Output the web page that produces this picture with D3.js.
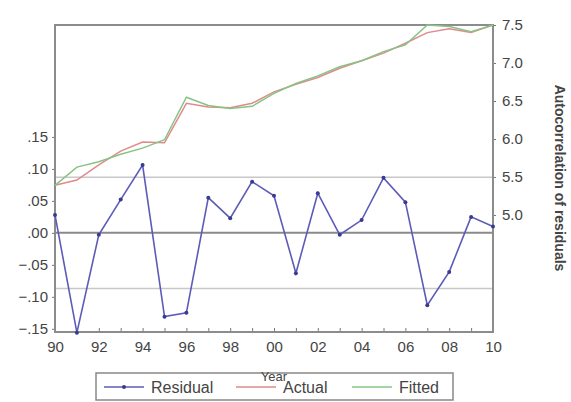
<!DOCTYPE html>
<html>
<head>
<meta charset="utf-8">
<script src="https://cdn.jsdelivr.net/npm/d3@7.9.0/dist/d3.min.js"></script>
<style>
  body { margin: 0; background: #fff; }
  svg text { font-family: "Liberation Sans", Arial, sans-serif; fill: #444; }
</style>
</head>
<body>
<svg id="chart" width="571" height="402"></svg>
<script>
// years on x axis
const years = d3.range(1990, 2011);

// residuals (left axis)
const residual = [0.028, -0.156, -0.003, 0.052, 0.106, -0.131, -0.125, 0.055, 0.023, 0.080,
  0.058, -0.063, 0.062, -0.003, 0.020, 0.086, 0.048, -0.113, -0.061, 0.025, 0.010];
// actual and fitted (right axis)
const actual = [5.39, 5.46, 5.66, 5.84, 5.96, 5.95, 6.47, 6.42, 6.41, 6.47,
  6.62, 6.72, 6.81, 6.93, 7.03, 7.13, 7.26, 7.40, 7.45, 7.40, 7.50];
const fitted = [5.39, 5.63, 5.70, 5.80, 5.88, 5.99, 6.55, 6.44, 6.40, 6.43,
  6.60, 6.73, 6.83, 6.95, 7.03, 7.15, 7.24, 7.50, 7.48, 7.41, 7.50];

const leftTicks = [-0.15, -0.10, -0.05, 0.00, 0.05, 0.10, 0.15];
const rightTicks = [5.0, 5.5, 6.0, 6.5, 7.0, 7.5];
const sdBand = 0.087;

const legendItems = [
  { name: 'Residual', color: '#5c5cb8', marker: true },
  { name: 'Actual', color: '#e08a8a', marker: false },
  { name: 'Fitted', color: '#86c486', marker: false }
];

const svg = d3.select('#chart');
const margin = { top: 25, right: 78, bottom: 70, left: 55 };
const W = 571, H = 402;

let x = d3.scaleLinear().domain([1990, 2010]).range([margin.left, W - margin.right]);
let yL = d3.scaleLinear().domain([-0.155, 0.325]).range([H - margin.bottom, margin.top]);
let yR = d3.scaleLinear().domain([3.46, 7.5]).range([H - margin.bottom, margin.top]);

// reference lines: +-1 sd and zero
[sdBand, -sdBand].forEach(v => {
  svg.append('line')
    .attr('x1', margin.left).attr('x2', W - margin.right)
    .attr('y1', yL(v)).attr('y2', yL(v))
    .attr('stroke', '#c8c8c8').attr('stroke-width', 1.5);
});
svg.append('line')
  .attr('x1', margin.left).attr('x2', W - margin.right)
  .attr('y1', yL(0)).attr('y2', yL(0))
  .attr('stroke', '#8a8a8a').attr('stroke-width', 2);

// axes
const fmtLeft = d => d3.format('.2f')(d).replace('0.', '.');
const leftAxis = svg.append('g')
  .attr('transform', `translate(${margin.left},0)`)
  .call(d3.axisLeft(yL).tickValues(leftTicks).tickFormat(fmtLeft).tickSize(3).tickPadding(4));

const rightAxis = svg.append('g')
  .attr('transform', `translate(${W - margin.right},0)`)
  .call(d3.axisRight(yR).tickValues(rightTicks).tickFormat(d3.format('.1f')).tickSize(3).tickPadding(6));

const xAxis = svg.append('g')
  .attr('transform', `translate(0,${H - margin.bottom})`)
  .call(d3.axisBottom(x).tickValues(years).tickSize(4).tickPadding(5)
    .tickFormat(d => d % 2 === 0 ? String(d).slice(2) : ''));

[leftAxis, rightAxis, xAxis].forEach(g => {
  g.select('.domain').remove();
  g.selectAll('line').attr('stroke', '#777');
  g.selectAll('text').attr('font-size', 15).attr('fill', '#444');
});
xAxis.selectAll('line').attr('y2', -4);

// plot frame
svg.append('rect')
  .attr('x', margin.left).attr('y', margin.top)
  .attr('width', W - margin.left - margin.right)
  .attr('height', H - margin.top - margin.bottom)
  .attr('fill', 'none').attr('stroke', '#8c8c8c').attr('stroke-width', 2);

// actual / fitted lines
const lineR = d3.line().x((d, i) => x(years[i])).y(d => yR(d));
svg.append('path').datum(actual)
  .attr('d', lineR).attr('fill', 'none')
  .attr('stroke', legendItems[1].color).attr('stroke-width', 1.5);
svg.append('path').datum(fitted)
  .attr('d', lineR).attr('fill', 'none')
  .attr('stroke', legendItems[2].color).attr('stroke-width', 1.5);

// residual line with markers
const lineL = d3.line().x((d, i) => x(years[i])).y(d => yL(d));
svg.append('path').datum(residual)
  .attr('d', lineL).attr('fill', 'none')
  .attr('stroke', legendItems[0].color).attr('stroke-width', 1.6);
svg.selectAll('.pt').data(residual).enter().append('circle')
  .attr('class', 'pt')
  .attr('cx', (d, i) => x(years[i])).attr('cy', d => yL(d))
  .attr('r', 2).attr('fill', '#3a3a90');

// right axis title
svg.append('text')
  .attr('transform', `translate(555,178) rotate(90)`)
  .attr('text-anchor', 'middle')
  .attr('font-size', 14).attr('font-weight', 'bold').attr('fill', '#333')
  .text('Autocorrelation of residuals');

// legend box
const lg = svg.append('g');
lg.append('rect')
  .attr('x', 96).attr('y', 373).attr('width', 357).attr('height', 27)
  .attr('fill', '#fff').attr('stroke', '#888').attr('stroke-width', 1.5);

const legX = [104, 236, 352];
legendItems.forEach((d, i) => {
  lg.append('line')
    .attr('x1', legX[i]).attr('x2', legX[i] + 40)
    .attr('y1', 387).attr('y2', 387)
    .attr('stroke', d.color).attr('stroke-width', 1.5);
  if (d.marker) {
    lg.append('circle').attr('cx', legX[i] + 20).attr('cy', 387).attr('r', 2).attr('fill', '#3a3a90');
  }
  lg.append('text')
    .attr('x', legX[i] + 47).attr('y', 393)
    .attr('font-size', 16).attr('fill', '#444')
    .text(d.name);
});

// x axis title, overlapping the legend as in the source
svg.append('text')
  .attr('x', 274).attr('y', 381)
  .attr('text-anchor', 'middle')
  .attr('font-size', 13).attr('fill', '#333')
  .text('Year');
</script>
</body>
</html>
